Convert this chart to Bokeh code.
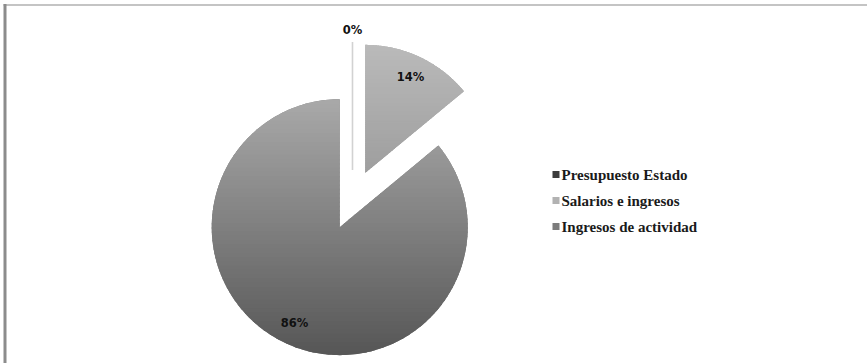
import numpy as np
from bokeh.plotting import figure
from bokeh.models import Range1d
from bokeh.core.properties import value
from bokeh.embed import file_html
from bokeh.resources import INLINE

# Funding sources (percent of total)
categories = ["Presupuesto Estado", "Salarios e ingresos", "Ingresos de actividad"]
shares = [0, 14, 86]
pct_labels = ["0%", "14%", "86%"]
legend_colors = ["#3c3c3c", "#b2b2b2", "#7c7c7c"]
# vertical shading of each slice: (top colour, bottom colour)
slice_shades = [("#3c3c3c", "#3c3c3c"), ("#bababa", "#9e9e9e"), ("#a9a9a9", "#565656")]

W, H = 867, 363
CX, CY = 352, 163.5      # pie centre
R = 128                  # radius
EXPLODE = 30             # distance each slice is pulled out

p = figure(width=W, height=H, output_backend="svg", toolbar_location=None,
           x_range=Range1d(0, W), y_range=Range1d(0, H),
           min_border=0, outline_line_color=None)
p.axis.visible = False
p.grid.visible = False
p.background_fill_color = "white"
p.border_fill_color = "white"

# frame lines along the top and left edge
p.quad(left=[3], right=[W], bottom=[H - 5.5], top=[H - 3.5], fill_color="#c4c4c4", line_color=None)
p.quad(left=[3], right=[6], bottom=[0], top=[H - 3.5], fill_color="#8c8c8c", line_color=None)


def hex_rgb(h):
    h = h.lstrip("#")
    return np.array([int(h[i:i + 2], 16) for i in (0, 2, 4)], dtype=float)


def mix(c0, c1, t):
    c = hex_rgb(c0) * (1 - t) + hex_rgb(c1) * t
    return "#%02x%02x%02x" % tuple(int(round(v)) for v in c)


def clip_half(poly, y_lim, keep_above):
    out = []
    n = len(poly)
    for i in range(n):
        cur, nxt = poly[i], poly[(i + 1) % n]
        cin = cur[1] >= y_lim if keep_above else cur[1] <= y_lim
        nin = nxt[1] >= y_lim if keep_above else nxt[1] <= y_lim
        if cin:
            out.append(cur)
        if cin != nin:
            t = (y_lim - cur[1]) / (nxt[1] - cur[1])
            out.append((cur[0] + t * (nxt[0] - cur[0]), y_lim))
    return out


total = float(sum(shares))
cum = 0.0
for i, (cat, v) in enumerate(zip(categories, shares)):
    th0 = 360.0 * cum / total
    th1 = 360.0 * (cum + v) / total
    cum += v
    mid = np.radians((th0 + th1) / 2)
    ax = CX + EXPLODE * np.sin(mid)
    ay = CY + EXPLODE * np.cos(mid)

    if v == 0:
        # an empty slice shows only as its edge
        p.segment(x0=[ax], y0=[ay], x1=[ax + R * np.sin(mid)], y1=[ay + R * np.cos(mid)],
                  line_color="#d2d2d2", line_width=1.6)
        lab_r = 1.09 * R
    else:
        a_start = np.radians(90 - th1)
        a_end = np.radians(90 - th0)
        arc = np.linspace(a_start, a_end, 240)
        poly = [(ax, ay)] + [(ax + R * np.cos(a), ay + R * np.sin(a)) for a in arc]
        ys = [q[1] for q in poly]
        ytop, ybot = max(ys), min(ys)
        n_bands = 60
        edges = np.linspace(ytop, ybot, n_bands + 1)
        top_c, bot_c = slice_shades[i]
        # solid base so no gaps show between the shading bands
        p.patch([q[0] for q in poly], [q[1] for q in poly],
                fill_color=mix(top_c, bot_c, 0.5), line_color=None)
        for b in range(n_bands):
            hi, lo = edges[b], edges[b + 1] - 1.5
            piece = clip_half(clip_half(poly, hi, False), lo, True)
            if len(piece) < 3:
                continue
            t = (b + 0.5) / n_bands
            p.patch([q[0] for q in piece], [q[1] for q in piece],
                    fill_color=mix(top_c, bot_c, t), line_color=None)
        lab_r = 0.83 * R

    p.text(x=[ax + lab_r * np.sin(mid)], y=[ay + lab_r * np.cos(mid)], text=[pct_labels[i]],
           text_font=value("DejaVu Sans"), text_font_style="bold", text_font_size="11.5px",
           text_color="#111111", text_align="center", text_baseline="middle")

# legend
LX, LY0, LDY = 555.5, H - 174, 26
for i, cat in enumerate(categories):
    y = LY0 - i * LDY
    p.scatter(x=[LX], y=[y], marker="square", size=7, fill_color=legend_colors[i], line_color=None)
    p.text(x=[LX + 5.5], y=[y], text=[cat], text_font=value("Liberation Serif"),
           text_font_style="bold", text_font_size="15px", text_color="#1a1a1a",
           text_align="left", text_baseline="middle")

open("out.html", "w").write(file_html(p, INLINE))
